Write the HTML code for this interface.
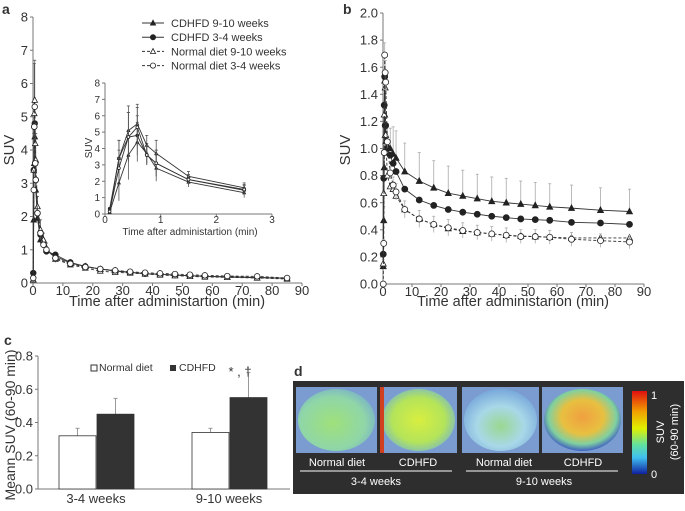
<!DOCTYPE html>
<html><head><meta charset="utf-8"><style>
body{margin:0;background:#fff;font-family:"Liberation Sans",sans-serif}
svg text{font-family:"Liberation Sans",sans-serif;fill:#333}
</style></head><body>
<svg id="s" width="685" height="506" viewBox="0 0 685 506" xmlns="http://www.w3.org/2000/svg">
<defs>
<radialGradient id="g1" cx="45%" cy="55%" r="70%"><stop offset="0" stop-color="#9fe07a"/><stop offset="0.6" stop-color="#8fd6a8"/><stop offset="1" stop-color="#6f9fd8"/></radialGradient>
<radialGradient id="g2" cx="50%" cy="50%" r="60%"><stop offset="0" stop-color="#d8ee40"/><stop offset="0.6" stop-color="#b4e45a"/><stop offset="1" stop-color="#70b0d8"/></radialGradient>
<radialGradient id="g3" cx="50%" cy="60%" r="65%"><stop offset="0" stop-color="#9ad890"/><stop offset="0.5" stop-color="#a8d8e8"/><stop offset="1" stop-color="#6f9fd8"/></radialGradient>
<radialGradient id="g4" cx="50%" cy="45%" r="55%"><stop offset="0" stop-color="#f0a040"/><stop offset="0.5" stop-color="#e8c040"/><stop offset="0.8" stop-color="#80d0a0"/><stop offset="1" stop-color="#4060c0"/></radialGradient>
<linearGradient id="cb" x1="0" y1="0" x2="0" y2="1"><stop offset="0" stop-color="#e01010"/><stop offset="0.25" stop-color="#f0a000"/><stop offset="0.45" stop-color="#e0f000"/><stop offset="0.65" stop-color="#60e0a0"/><stop offset="0.8" stop-color="#40c0f0"/><stop offset="1" stop-color="#1020a0"/></linearGradient>
</defs>
<g id="root"></g>
</svg>
<script>
// ---- data ----
const times=[0.083,0.25,0.42,0.58,0.75,0.92,1.5,2.5,3.5,4.5,7.5,12.5,17.5,22.5,27.5,32.5,37.5,42.5,47.5,52.5,57.5,65,75,85];
const seriesNames=["CDHFD 9-10 weeks","CDHFD 3-4 weeks","Normal diet 9-10 weeks","Normal diet 3-4 weeks"];
const aCdhfd910=[0.1,1.9,3.6,4.4,3.7,2.8,1.95,1.3,1.3,1.0,0.8,0.6,0.5,0.42,0.37,0.32,0.28,0.26,0.24,0.22,0.2,0.18,0.16,0.14];
const aCdhfd34=[0.3,3.4,4.7,4.8,3.6,3.1,2.1,1.45,1.2,0.95,0.85,0.62,0.5,0.42,0.36,0.32,0.28,0.26,0.24,0.22,0.2,0.19,0.17,0.14];
const aNormal910=[0.1,3.4,5.1,5.5,4.2,3.7,2.3,1.6,1.3,1.05,0.72,0.55,0.45,0.36,0.32,0.3,0.27,0.24,0.22,0.2,0.18,0.17,0.15,0.12];
const aNormal34=[0.15,2.8,4.7,5.3,3.6,3.1,2.1,1.5,1.15,1.0,0.75,0.58,0.48,0.42,0.38,0.34,0.31,0.29,0.27,0.25,0.23,0.21,0.2,0.15];
const aSd=[0.1,1.1,1.5,1.2,0.6,0.8,0.3,0.3,0.2,0.15,0.1,0.08,0.06,0.05,0.05,0.04,0.04,0.04,0.04,0.04,0.04,0.04,0.04,0.04];
const bCdhfd910=[0.13,0.47,0.86,1.25,1.1,1.05,1.02,1.0,0.96,0.93,0.83,0.76,0.71,0.67,0.65,0.63,0.61,0.6,0.59,0.58,0.57,0.56,0.545,0.535];
const bCdhfd34=[0.22,0.78,1.32,1.53,1.17,1.17,1.0,0.95,0.89,0.83,0.7,0.62,0.58,0.55,0.53,0.515,0.5,0.49,0.48,0.475,0.47,0.455,0.45,0.44];
const bNormal910=[0.15,0.67,1.25,1.5,1.45,1.1,0.8,0.72,0.7,0.65,0.55,0.48,0.44,0.41,0.39,0.38,0.37,0.36,0.355,0.35,0.345,0.34,0.34,0.34];
const bNormal34=[0.0,0.3,0.97,1.69,1.56,1.49,1.05,0.82,0.73,0.68,0.55,0.48,0.44,0.415,0.395,0.38,0.37,0.36,0.35,0.35,0.345,0.33,0.32,0.31];
const bSdUp=[0.05,0.1,0.2,0.3,0.3,0.2,0.15,0.15,0.2,0.2,0.21,0.21,0.2,0.2,0.19,0.18,0.18,0.18,0.17,0.17,0.17,0.17,0.165,0.165];
const cGroups=["3-4 weeks","9-10 weeks"];
const cNormal=[0.32,0.34];
const cNormalErr=[0.045,0.025];
const cCdhfd=[0.45,0.55];
const cCdhfdErr=[0.095,0.15];
const aYTicks=[0,1,2,3,4,5,6,7,8];
const xTicks=[0,10,20,30,40,50,60,70,80,90];
const insetXTicks=[0,1,2,3];
const bYTicks=[0,0.2,0.4,0.6,0.8,1.0,1.2,1.4,1.6,1.8,2.0];
const cYTicks=[0,0.2,0.4,0.6,0.8];

const NS="http://www.w3.org/2000/svg";
const root=document.getElementById('root');
function el(tag,attrs,parent,text){const e=document.createElementNS(NS,tag);for(const k in attrs)e.setAttribute(k,attrs[k]);if(text!==undefined)e.textContent=text;(parent||root).appendChild(e);return e;}
function grp(name){const g=el('g',{});return g;}
function marker(g,shape,x,y,r){
  let m;
  const fill=shape.filled?'#222':'#fff';
  if(shape.tri){m=el('polygon',{points:`${x},${y-r*1.1} ${x-r},${y+r*0.8} ${x+r},${y+r*0.8}`,fill:fill,stroke:'#222','stroke-width':0.8},g);}
  else{m=el('circle',{cx:x,cy:y,r:r,fill:fill,stroke:'#222','stroke-width':0.8},g);}
  
  
}
const shapes=[{tri:1,filled:1,dash:''},{tri:0,filled:1,dash:''},{tri:1,filled:0,dash:'3,2'},{tri:0,filled:0,dash:'3,2'}];

function axes(g,x0,x1,y0,y1,xt,xs,yt,ys,fs,fmt){
  el('line',{x1:x0,y1:y0,x2:x1,y2:y0,stroke:'#777','stroke-width':1},g);
  el('line',{x1:x0,y1:y0,x2:x0,y2:y1,stroke:'#777','stroke-width':1},g);
  xt.forEach(v=>{const x=xs(v);el('line',{x1:x,y1:y0,x2:x,y2:y0+3,stroke:'#777'},g);const t=el('text',{x:x,y:y0+fs-1,'font-size':fs,'text-anchor':'middle'},g,v);});
  yt.forEach(v=>{const y=ys(v);el('line',{x1:x0-3,y1:y,x2:x0,y2:y,stroke:'#777'},g);const t=el('text',{x:x0-5,y:y+fs*0.35,'font-size':fs,'text-anchor':'end'},g,fmt?fmt(v):v);});
}
function plotSeries(g,xs,ys,tArr,vals,sd,shape,r,errCol,lowerErr,maxT){
  const pts=[];tArr.forEach((t,i)=>{if(maxT===undefined||t<=maxT)pts.push([xs(t),ys(vals[i]),i]);});
  if(sd)pts.forEach(p=>{const i=p[2];el('line',{x1:p[0],y1:ys(vals[i]+sd[i]),x2:p[0],y2:lowerErr?ys(Math.max(0,vals[i]-sd[i])):p[1],stroke:errCol,'stroke-width':0.8},g);el('line',{x1:p[0]-1.5,y1:ys(vals[i]+sd[i]),x2:p[0]+1.5,y2:ys(vals[i]+sd[i]),stroke:errCol,'stroke-width':0.8},g);});
  const l=el('polyline',{points:pts.map(p=>p[0]+','+p[1]).join(' '),fill:'none',stroke:'#333','stroke-width':0.9,'stroke-dasharray':shape.dash},g);
  
  pts.forEach(p=>marker(g,shape,p[0],p[1],r));
}

// ---- panel a ----
(function(){
  const g=grp('panel-a');
  const xs=v=>33+v*(302-33)/90, ys=v=>283-v*(283-17)/8;
  el('text',{x:2,y:14,'font-size':14,'font-weight':'bold'},g,'a');
  axes(g,33,302,283,17,xTicks,xs,aYTicks,ys,13);
  const yt=el('text',{x:0,y:0,'font-size':15,transform:'translate(14,150) rotate(-90)','text-anchor':'middle'},g,'SUV');
  
  const xt=el('text',{x:167,y:306,'font-size':14.5,'text-anchor':'middle'},g,'Time after administartion (min)');
  
  const A=[aCdhfd910,aCdhfd34,aNormal910,aNormal34];
  A.forEach((v,k)=>plotSeries(g,xs,ys,times,v,k==2?aSd:null,shapes[k],2.8,'#555',true));
  // legend
  const lg=grp('legend');
  seriesNames.forEach((n,k)=>{const y=23+k*14.2;const e=grp('legend-entry');lg.appendChild(e);
    el('line',{x1:142,y1:y,x2:164,y2:y,stroke:'#333','stroke-dasharray':shapes[k].dash},e);marker(e,shapes[k],153,y,2.6);
    el('text',{x:171,y:y+4,'font-size':11},e,n);});
  // inset
  const ig=grp('inset-chart');
  const ixs=v=>105+v*(272-105)/3, iys=v=>214-v*(214-83)/8;
  axes(ig,105,272,214,83,insetXTicks,ixs,aYTicks,iys,10);
  el('text',{x:0,y:0,'font-size':10,transform:'translate(92,148) rotate(-90)','text-anchor':'middle'},ig,'SUV');
  el('text',{x:190,y:235,'font-size':10,'text-anchor':'middle'},ig,'Time after administartion (min)');
  A.forEach((v,k)=>plotSeries(ig,ixs,iys,times,v,aSd,{tri:shapes[k].tri,filled:shapes[k].filled,dash:''},1.4,'#555',true,3));
})();

// ---- panel b ----
(function(){
  const g=grp('panel-b');
  const xs=v=>383+v*(644-383)/90, ys=v=>284-v*(284-13)/2;
  el('text',{x:343,y:14,'font-size':14,'font-weight':'bold'},g,'b');
  axes(g,383,644,284,13,xTicks,xs,bYTicks,ys,13,v=>v.toFixed(1));
  el('text',{x:0,y:0,'font-size':15,transform:'translate(350,150) rotate(-90)','text-anchor':'middle'},g,'SUV');
  el('text',{x:513,y:306,'font-size':14.5,'text-anchor':'middle'},g,'Time after administarion (min)');
  [bCdhfd910,bCdhfd34,bNormal910,bNormal34].forEach((v,k)=>plotSeries(g,xs,ys,times,v,k==0?bSdUp:(k==3?bSdUp.map(s=>s*0.3):null),shapes[k],3,'#aaa',k==3));
})();

// ---- panel c ----
(function(){
  const g=grp('panel-c');
  const ys=v=>489-v*(489-356)/0.8;
  const gx=[59,192], bw=37;
  el('text',{x:4,y:345,'font-size':14,'font-weight':'bold'},g,'c');
  axes(g,38,290,489,356,[],x=>x,cYTicks,ys,13,v=>v.toFixed(1));
  el('text',{x:0,y:0,'font-size':14,transform:'translate(15,425) rotate(-90)','text-anchor':'middle'},g,'Meann SUV (60-90 min)');
  cGroups.forEach((n,i)=>{
    const x=gx[i];
    [[cNormal,cNormalErr,'#fff',x],[cCdhfd,cCdhfdErr,'#333',x+bw+1]].forEach(([v,e,f,bx])=>{
      el('line',{x1:bx+bw/2,y1:ys(v[i]),x2:bx+bw/2,y2:ys(v[i]+e[i]),stroke:'#999'},g);
      el('line',{x1:bx+bw/2-2,y1:ys(v[i]+e[i]),x2:bx+bw/2+2,y2:ys(v[i]+e[i]),stroke:'#999'},g);
      const r=el('rect',{x:bx,y:ys(v[i]),width:bw,height:489-ys(v[i]),fill:f,stroke:'#333','stroke-width':0.8},g);
      
    });
    el('text',{x:x+bw,y:503,'font-size':13,'text-anchor':'middle'},g,n);
  });
  el('text',{x:240,y:376,'font-size':13,'text-anchor':'middle'},g,'* , †');
  const lg=grp('legend-c');
  el('rect',{x:91,y:365,width:6,height:6,fill:'#fff',stroke:'#333'},lg);el('text',{x:99,y:371,'font-size':10.5},lg,'Normal diet');
  el('rect',{x:170,y:365,width:6,height:6,fill:'#333'},lg);el('text',{x:179,y:371,'font-size':10.5},lg,'CDHFD');
})();

// ---- panel d ----
(function(){
  const g=grp('panel-d');
  el('text',{x:294,y:376,'font-size':14,'font-weight':'bold'},g,'d');
  el('rect',{x:293,y:381,width:391,height:113,fill:'#2e2e2e'},g);
  const imgs=[[296,81,'g1'],[380,77,'g2'],[462,77,'g3'],[542,81,'g4']];
  imgs.forEach(([x,w,gid])=>{
    el('rect',{x:x,y:387,width:w,height:66,fill:'#7a9cd0'},g);
    const im=el('ellipse',{cx:x+w/2,cy:420,rx:w/2-2,ry:31,fill:`url(#${gid})`},g);
    
  });
  el('rect',{x:380,y:387,width:4,height:66,fill:'#d04020'},g);
  el('rect',{x:632,y:391,width:15,height:83,fill:'url(#cb)'},g);
  el('text',{x:651,y:399,'font-size':11,style:'fill:#fff'},g,'1');
  el('text',{x:651,y:478,'font-size':11,style:'fill:#fff'},g,'0');
  el('text',{x:0,y:0,'font-size':11,style:'fill:#fff','text-anchor':'middle',transform:'translate(664,432) rotate(-90)'},g,'SUV');
  el('text',{x:0,y:0,'font-size':11,style:'fill:#fff','text-anchor':'middle',transform:'translate(678,432) rotate(-90)'},g,'(60-90 min)');
  [['Normal diet',337],['CDHFD',418],['Normal diet',504],['CDHFD',583]].forEach(([t,x])=>el('text',{x:x,y:466,'font-size':11,style:'fill:#fff','text-anchor':'middle'},g,t));
  el('line',{x1:300,y1:471,x2:452,y2:471,stroke:'#fff'},g);
  el('line',{x1:466,y1:471,x2:618,y2:471,stroke:'#fff'},g);
  el('text',{x:376,y:485,'font-size':11,style:'fill:#fff','text-anchor':'middle'},g,'3-4 weeks');
  el('text',{x:544,y:485,'font-size':11,style:'fill:#fff','text-anchor':'middle'},g,'9-10 weeks');
})();
</script>
</body></html>
